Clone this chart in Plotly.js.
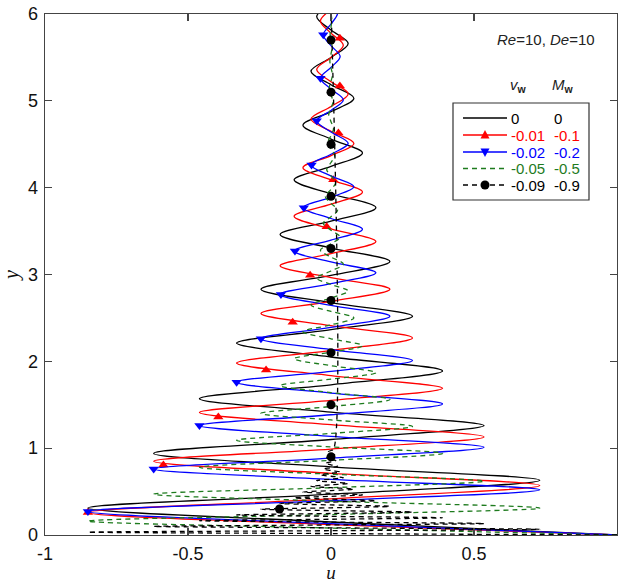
<!DOCTYPE html>
<html><head><meta charset="utf-8">
<script src="https://cdn.plot.ly/plotly-3.0.1.min.js"></script>
<style>html,body{margin:0;padding:0;background:#fff}#chart{width:622px;height:583px}</style>
</head><body><div id="chart"></div>
<script>
// successive turning-point values of u (same for every profile)
const peakU = [1, -0.85, 0.73, -0.62, 0.535, -0.46, 0.39, -0.33, 0.285, -0.245, 0.206, -0.178, 0.157, -0.129, 0.11, -0.098, 0.08, -0.07, 0.06, -0.05, 0.043, -0.037, 0.032, -0.027, 0.023, -0.02, 0.017, -0.015, 0.013, -0.011, 0.009, -0.008, 0.007, -0.006, 0.005, -0.004, 0.004, -0.003, 0.003, -0.002, 0.002];

// y of turning points and of u = 0 crossings, for each profile
const blackPeakY = [0, 0.31, 0.63, 0.94, 1.26, 1.57, 1.89, 2.21, 2.52, 2.83, 3.15, 3.46, 3.77, 4.09, 4.40, 4.72, 5.03, 5.34, 5.66, 5.97, 6.29];
const blackZeroY = [0.15, 0.47, 0.785, 1.10, 1.415, 1.73, 2.05, 2.365, 2.675, 2.99, 3.305, 3.615, 3.93, 4.245, 4.56, 4.875, 5.185, 5.50, 5.815, 6.13];

const redPeakY = [0, 0.26, 0.57, 0.85, 1.13, 1.41, 1.69, 1.98, 2.27, 2.55, 2.83, 3.10, 3.38, 3.67, 3.95, 4.23, 4.51, 4.79, 5.08, 5.36, 5.64, 5.92, 6.20];
const redZeroY = [0.12, 0.415, 0.71, 0.99, 1.27, 1.55, 1.835, 2.125, 2.41, 2.69, 2.965, 3.24, 3.525, 3.81, 4.09, 4.37, 4.65, 4.935, 5.22, 5.50, 5.78, 6.06];

const bluePeakY = [0, 0.27, 0.52, 0.76, 1.01, 1.26, 1.51, 1.76, 2.01, 2.26, 2.52, 2.77, 3.02, 3.27, 3.52, 3.77, 4.01, 4.26, 4.51, 4.77, 5.01, 5.26, 5.51, 5.76, 6.01, 6.26];
const blueZeroY = [0.13, 0.395, 0.64, 0.885, 1.135, 1.385, 1.635, 1.885, 2.135, 2.39, 2.645, 2.895, 3.145, 3.395, 3.645, 3.89, 4.135, 4.385, 4.64, 4.89, 5.135, 5.385, 5.635, 5.885, 6.135];

const greenPeakY = [0, 0.16, 0.31, 0.47, 0.62, 0.78, 0.94, 1.09, 1.25, 1.40, 1.56, 1.72, 1.87, 2.03, 2.18, 2.34, 2.50, 2.65, 2.81, 2.96, 3.12, 3.28, 3.43, 3.59, 3.74, 3.90, 4.06, 4.21, 4.37, 4.52, 4.68, 4.84, 4.99, 5.15, 5.30, 5.46, 5.62, 5.77, 5.93, 6.08, 6.24];
const greenZeroY = [0.08, 0.235, 0.39, 0.545, 0.70, 0.86, 1.015, 1.17, 1.325, 1.48, 1.64, 1.795, 1.95, 2.105, 2.26, 2.42, 2.575, 2.73, 2.885, 3.04, 3.20, 3.355, 3.51, 3.665, 3.82, 3.98, 4.135, 4.29, 4.445, 4.60, 4.76, 4.915, 5.07, 5.225, 5.38, 5.54, 5.695, 5.85, 6.005, 6.16];

const dashPeakY = [0, 0.033, 0.066, 0.099, 0.132, 0.165, 0.198, 0.231, 0.264, 0.297, 0.33, 0.363, 0.396, 0.429, 0.462, 0.495, 0.528, 0.561, 0.594, 0.627, 0.66, 0.693, 0.726, 0.759, 0.792, 0.825, 0.858, 0.891, 0.924, 0.957, 0.99];
const dashZeroY = [0.0165, 0.0495, 0.0825, 0.1155, 0.1485, 0.1815, 0.2145, 0.2475, 0.2805, 0.3135, 0.3465, 0.3795, 0.4125, 0.4455, 0.4785, 0.5115, 0.5445, 0.5775, 0.6105, 0.6435, 0.6765, 0.7095, 0.7425, 0.7755, 0.8085, 0.8415, 0.8745, 0.9075, 0.9405, 0.9735, 6.1];

// marker points
const redMarkU = [-0.85, -0.586, -0.394, -0.227, -0.134, -0.073, -0.015, 0.008, 0.026, 0.031, 0.031];
const redMarkY = [0.26, 0.806, 1.36, 1.90, 2.45, 2.99, 3.55, 4.09, 4.63, 5.17, 5.72];
const blueMarkU = [-0.85, -0.62, -0.46, -0.33, -0.245, -0.175, -0.126, -0.095, -0.068, -0.05, -0.037, -0.027];
const blueMarkY = [0.27, 0.76, 1.26, 1.76, 2.26, 2.77, 3.27, 3.77, 4.26, 4.77, 5.26, 5.76];
const dashMarkU = [-0.18, 0, 0, 0, 0, 0, 0, 0, 0, 0];
const dashMarkY = [0.30, 0.90, 1.50, 2.10, 2.70, 3.30, 3.90, 4.50, 5.10, 5.70];

// legend labels
const vwLabels = ['0', '-0.01', '-0.02', '-0.05', '-0.09'];
const mwLabels = ['0', '-0.1', '-0.2', '-0.5', '-0.9'];

const xTickVals = [-1, -0.5, 0, 0.5, 1];
const xTickText = ['-1', '-0.5', '0', '0.5', '1'];
const yTickVals = [0, 1, 2, 3, 4, 5, 6];
const yTickText = ['0', '1', '2', '3', '4', '5', '6'];

function profile(peakY, zeroY) {
  const x = [], y = [];
  for (let i = 0; i < peakY.length; i++) {
    x.push(peakU[i]); y.push(peakY[i]);
    if (i < zeroY.length) { x.push(0); y.push(zeroY[i]); }
  }
  return {x, y};
}

const COL = {black: '#000000', red: '#ff0000', blue: '#0000ff', green: '#1e7b1e'};
const LW = 1.3;
const traces = [];
function addLine(p, color, dash) {
  traces.push({type: 'scatter', mode: 'lines', x: p.x, y: p.y, showlegend: false, hoverinfo: 'skip',
    line: {color: color, width: LW, dash: dash || 'solid', shape: 'spline', smoothing: 1}});
}
function addMarks(x, y, color, symbol, size) {
  traces.push({type: 'scatter', mode: 'markers', x: x, y: y, showlegend: false, hoverinfo: 'skip',
    marker: {color: color, symbol: symbol, size: size, line: {width: 0}}});
}
addLine(profile(blackPeakY, blackZeroY), COL.black);
addLine(profile(redPeakY, redZeroY), COL.red);
addMarks(redMarkU, redMarkY, COL.red, 'triangle-up', 9);
addLine(profile(bluePeakY, blueZeroY), COL.blue);
addMarks(blueMarkU, blueMarkY, COL.blue, 'triangle-down', 9);
addLine(profile(greenPeakY, greenZeroY), COL.green, '5px,4px');
addLine(profile(dashPeakY, dashZeroY), COL.black, '5px,4px');
addMarks(dashMarkU, dashMarkY, COL.black, 'circle', 9);

// pixel -> paper helpers for the hand-drawn legend
const ML = 45, MT = 14, PW = 572, PH = 521;
const px = v => (v - ML) / PW;
const py = v => (MT + PH - v) / PH;

const shapes = [];
const annotations = [];
const rowY = [118, 135, 152, 168.5, 185];
const rowStyle = [
  {c: COL.black, dash: 'solid', m: null},
  {c: COL.red, dash: 'solid', m: 'up'},
  {c: COL.blue, dash: 'solid', m: 'down'},
  {c: COL.green, dash: '5px,4px', m: null},
  {c: COL.black, dash: '5px,4px', m: 'circle'}
];
shapes.push({type: 'rect', xref: 'paper', yref: 'paper', x0: px(453), x1: px(589), y0: py(200), y1: py(103),
  line: {color: '#333', width: 1.2}, fillcolor: 'rgba(0,0,0,0)', layer: 'above'});
const LFONT = {family: 'Liberation Sans, Arial, sans-serif', size: 15};
rowY.forEach((ry, i) => {
  const s = rowStyle[i];
  shapes.push({type: 'line', xref: 'paper', yref: 'paper', x0: px(463), x1: px(507), y0: py(ry), y1: py(ry),
    line: {color: s.c, width: LW, dash: s.dash}});
  const cx = 485, r = 4.5;
  if (s.m === 'up') {
    shapes.push({type: 'path', xref: 'paper', yref: 'paper', fillcolor: s.c, line: {width: 0},
      path: `M${px(cx - r)},${py(ry + r * 0.8)} L${px(cx + r)},${py(ry + r * 0.8)} L${px(cx)},${py(ry - r * 1.1)} Z`});
  } else if (s.m === 'down') {
    shapes.push({type: 'path', xref: 'paper', yref: 'paper', fillcolor: s.c, line: {width: 0},
      path: `M${px(cx - r)},${py(ry - r * 0.8)} L${px(cx + r)},${py(ry - r * 0.8)} L${px(cx)},${py(ry + r * 1.1)} Z`});
  } else if (s.m === 'circle') {
    shapes.push({type: 'circle', xref: 'paper', yref: 'paper', fillcolor: s.c, line: {width: 0},
      x0: px(cx - r), x1: px(cx + r), y0: py(ry + r), y1: py(ry - r)});
  }
  annotations.push({xref: 'paper', yref: 'paper', x: px(510), y: py(ry), xanchor: 'left', yanchor: 'middle',
    text: vwLabels[i], showarrow: false, font: Object.assign({color: s.c}, LFONT), borderpad: 0});
  annotations.push({xref: 'paper', yref: 'paper', x: px(553), y: py(ry), xanchor: 'left', yanchor: 'middle',
    text: mwLabels[i], showarrow: false, font: Object.assign({color: s.c}, LFONT), borderpad: 0});
});
annotations.push({xref: 'paper', yref: 'paper', x: px(509), y: py(85), xanchor: 'left', yanchor: 'middle',
  text: '<i>v</i><sub><b>w</b></sub>', showarrow: false, font: Object.assign({color: '#222'}, LFONT), borderpad: 0});
annotations.push({xref: 'paper', yref: 'paper', x: px(551), y: py(85), xanchor: 'left', yanchor: 'middle',
  text: '<i>M</i><sub><b>w</b></sub>', showarrow: false, font: Object.assign({color: '#222'}, LFONT), borderpad: 0});
annotations.push({xref: 'paper', yref: 'paper', x: px(496), y: py(39), xanchor: 'left', yanchor: 'middle',
  text: '<i>Re</i>=10, <i>De</i>=10', showarrow: false, font: Object.assign({color: '#222'}, LFONT), borderpad: 0});

const axisCommon = {
  showgrid: false, zeroline: false, showline: true, linecolor: '#444', linewidth: 1.3,
  ticks: 'inside', ticklen: 7, tickwidth: 1.2, tickcolor: '#444', mirror: 'ticks',
  tickfont: {family: 'Liberation Sans, Arial, sans-serif', size: 18, color: '#111'},
  tickmode: 'array', automargin: false
};
const layout = {
  width: 622, height: 583, paper_bgcolor: '#fff', plot_bgcolor: '#fff',
  margin: {l: ML, r: 622 - ML - PW, t: MT, b: 583 - MT - PH},
  showlegend: false,
  xaxis: Object.assign({}, axisCommon, {range: [-1, 1], tickvals: xTickVals, ticktext: xTickText, ticklabelstandoff: 2,
    title: {text: '<i>u</i>', font: {family: 'Liberation Serif, Times New Roman, serif', size: 19, color: '#111'}, standoff: 4}}),
  yaxis: Object.assign({}, axisCommon, {range: [0, 6], tickvals: yTickVals, ticktext: yTickText, ticklabelstandoff: 2,
    title: {text: '<i>y</i>', font: {family: 'Liberation Serif, Times New Roman, serif', size: 20, color: '#111'}, standoff: 6}}),
  shapes: shapes, annotations: annotations
};
Plotly.newPlot('chart', traces, layout, {displayModeBar: false, staticPlot: true});
</script></body></html>
